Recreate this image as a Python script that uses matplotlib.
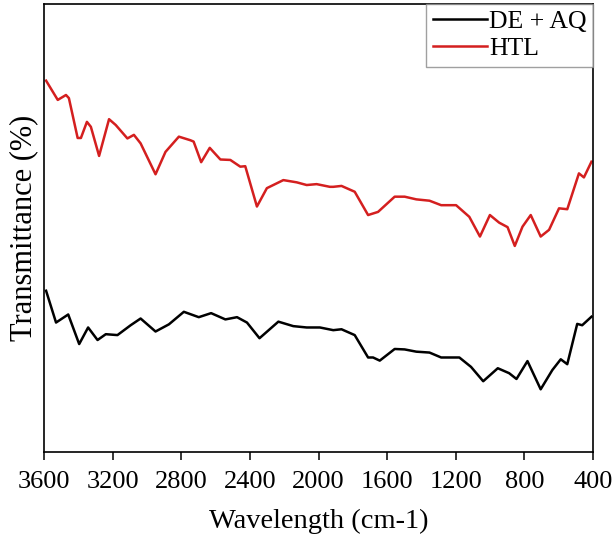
import matplotlib
matplotlib.use("Agg")
import matplotlib.pyplot as plt

# Wavenumber (cm-1) and relative transmittance readings
htl_x = [3588, 3520, 3472, 3455, 3404, 3385, 3350, 3327, 3279, 3221, 3182, 3114, 3076, 3037,
         2950, 2892, 2814, 2747, 2728, 2684, 2634, 2572, 2514, 2456, 2427, 2359, 2301, 2205,
         2127, 2069, 2011, 1934, 1914, 1866, 1789, 1711, 1653, 1556, 1498, 1430, 1353, 1285,
         1198, 1121, 1059, 1001, 947, 898, 856, 811, 763, 705, 656, 598, 550, 482, 453, 409]
htl_y = [82.9, 78.6, 79.7, 79.0, 70.1, 70.1, 73.7, 72.6, 66.1, 74.3, 73.0, 70.0, 70.8, 68.9,
         62.0, 67.0, 70.4, 69.6, 69.3, 64.7, 67.9, 65.3, 65.2, 63.7, 63.8, 54.8, 58.9, 60.7,
         60.2, 59.6, 59.8, 59.2, 59.2, 59.4, 58.1, 52.9, 53.6, 57.0, 57.0, 56.4, 56.1, 55.1,
         55.1, 52.5, 48.1, 52.9, 51.2, 50.2, 46.0, 50.3, 52.9, 48.1, 49.6, 54.4, 54.2, 62.2, 61.3, 64.8]

deaq_x = [3588, 3530, 3459, 3395, 3343, 3288, 3240, 3172, 3095, 3037, 2950, 2872, 2785, 2698,
          2626, 2543, 2475, 2417, 2344, 2234, 2147, 2069, 1992, 1914, 1866, 1789, 1711, 1682,
          1643, 1556, 1498, 1430, 1353, 1285, 1179, 1111, 1040, 955, 889, 846, 782, 705, 637,
          588, 550, 492, 463, 409]
deaq_y = [36.0, 28.9, 30.7, 24.1, 27.8, 25.0, 26.3, 26.1, 28.3, 29.8, 26.9, 28.5, 31.3, 30.1,
          31.0, 29.6, 30.1, 28.9, 25.4, 29.1, 28.1, 27.8, 27.8, 27.2, 27.4, 26.1, 21.1, 21.1,
          20.4, 23.0, 22.9, 22.4, 22.2, 21.1, 21.1, 19.0, 15.8, 18.7, 17.6, 16.3, 20.3, 14.0, 18.3,
          20.7, 19.6, 28.6, 28.3, 30.2]

x_ticks = [3600, 3200, 2800, 2400, 2000, 1600, 1200, 800, 400]

plt.rcParams['font.family'] = ['Liberation Serif', 'DejaVu Serif']

fig = plt.figure(figsize=(6.14, 5.41), dpi=100)
ax = fig.add_axes([0.0717, 0.1645, 0.8941, 0.828])

ax.plot(deaq_x, deaq_y, color='black', lw=1.8, label='DE + AQ')
ax.plot(htl_x, htl_y, color='#d41f1f', lw=1.8, label='HTL')

ax.set_xlim(3600, 400)
ax.set_ylim(0, 100)
ax.set_xticks(x_ticks)
ax.set_xticklabels([str(t) for t in x_ticks], fontsize=19)
ax.set_yticks([])
ax.tick_params(axis='x', direction='out', length=6, width=1.1, pad=8)
for s in ax.spines.values():
    s.set_linewidth(1.2)

ax.set_xlabel('Wavelength (cm-1)', fontsize=20.5, labelpad=11)
ax.set_ylabel('Transmittance (%)', fontsize=22, labelpad=4)

leg = ax.legend(loc='upper right', borderaxespad=0, fontsize=18.5, frameon=True,
                fancybox=False, edgecolor='#888888', handlelength=2.1,
                handletextpad=0.1, labelspacing=0.15, borderpad=0.25)
leg.get_frame().set_linewidth(1.0)

fig.savefig('out.png', dpi=100)
